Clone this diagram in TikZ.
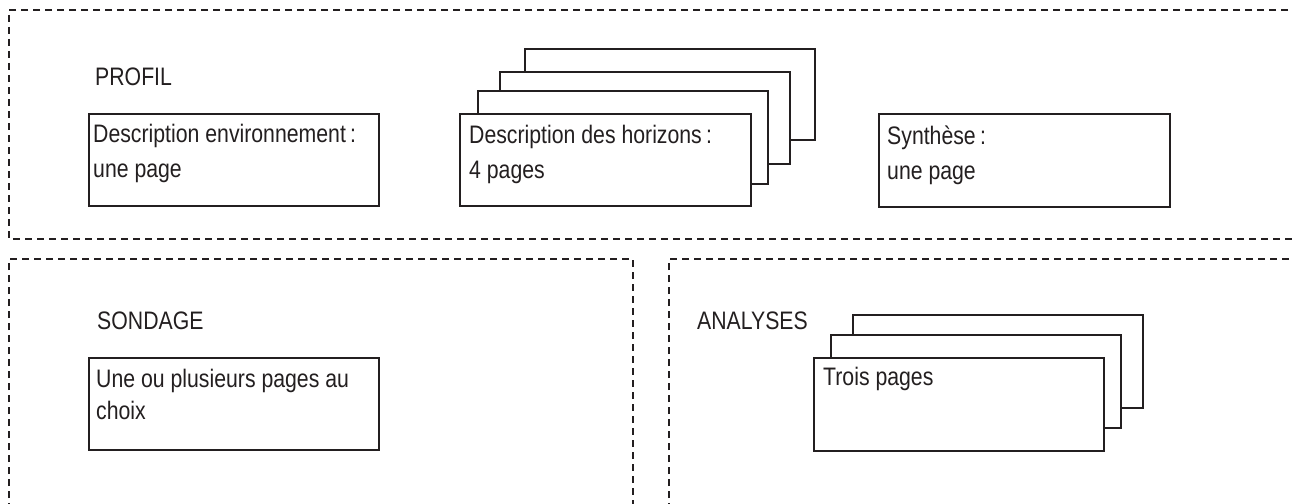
\documentclass[tikz,border=0pt]{standalone}
\usepackage{fontspec}
\setmainfont{Liberation Sans}[FakeStretch=0.84]
\definecolor{ink}{HTML}{231F20}
\tikzset{
  zone/.style={draw=ink, line width=1.4pt, dash pattern=on 7pt off 5pt},
  pagebox/.style={draw=ink, fill=white, line width=2pt, inner sep=0pt, anchor=north west},
  lbl/.style={text=ink, inner sep=0pt, anchor=base west, align=left,
              font=\fontsize{25.3}{35}\selectfont},
  lblb/.style={lbl, font=\fontsize{25.3}{32}\selectfont},
}
\begin{document}
\begin{tikzpicture}[x=1pt, y=-1pt]
\useasboundingbox (0,0) rectangle (1292,503);
\clip (0,0) rectangle (1292,503);
% dashed zones
\coordinate (z1a) at (1300,10);
\coordinate (z1b) at (9,10);
\coordinate (z1c) at (9,239);
\coordinate (z1d) at (1300,239);
\draw[zone] (z1a) -- (z1b) -- (z1c) -- (z1d);
\coordinate (z2a) at (9,510);
\coordinate (z2b) at (9,259);
\coordinate (z2c) at (633,259);
\coordinate (z2d) at (633,510);
\draw[zone] (z2a) -- (z2b) -- (z2c) -- (z2d);
\coordinate (z3a) at (669,510);
\coordinate (z3b) at (669,259);
\coordinate (z3c) at (1300,259);
\draw[zone] (z3a) -- (z3b) -- (z3c);

% section titles
\node[lbl] (profil) at (95,85) {PROFIL};
\node[lbl] (sondage) at (97,329) {SONDAGE};
\node[lbl] (analyses) at (697,329) {ANALYSES};

% PROFIL boxes
\node[pagebox, minimum width=290pt, minimum height=92pt] (env) at (88,113) {};
\node[lbl] (envt) at ([xshift=5pt,yshift=-64pt]env.north west) {Description environnement\,:\\une page};

\node[pagebox, minimum width=290pt, minimum height=91pt] (h4) at (524,48) {};
\node[pagebox, minimum width=290pt, minimum height=92pt] (h3) at (499,71) {};
\node[pagebox, minimum width=290pt, minimum height=93pt] (h2) at (477,90) {};
\node[pagebox, minimum width=291pt, minimum height=92pt] (h1) at (459,113) {};
\node[lbl] (h1t) at ([xshift=10pt,yshift=-65pt]h1.north west) {Description des horizons\,:\\4 pages};

\node[pagebox, minimum width=291pt, minimum height=93pt] (syn) at (878,113) {};
\node[lbl] (synt) at ([xshift=9pt,yshift=-66pt]syn.north west) {Synthèse\,:\\une page};

% SONDAGE box
\node[pagebox, minimum width=290pt, minimum height=92pt] (son) at (88,357) {};
\node[lblb] (sont) at ([xshift=8pt,yshift=-62pt]son.north west) {Une ou plusieurs pages au\\choix};

% ANALYSES boxes
\node[pagebox, minimum width=290pt, minimum height=93pt] (a3) at (852,314) {};
\node[pagebox, minimum width=290pt, minimum height=93pt] (a2) at (830,334) {};
\node[pagebox, minimum width=290pt, minimum height=93pt] (a1) at (813,357) {};
\node[lbl] (a1t) at ([xshift=10pt,yshift=-28pt]a1.north west) {Trois pages};
\end{tikzpicture}
\end{document}
